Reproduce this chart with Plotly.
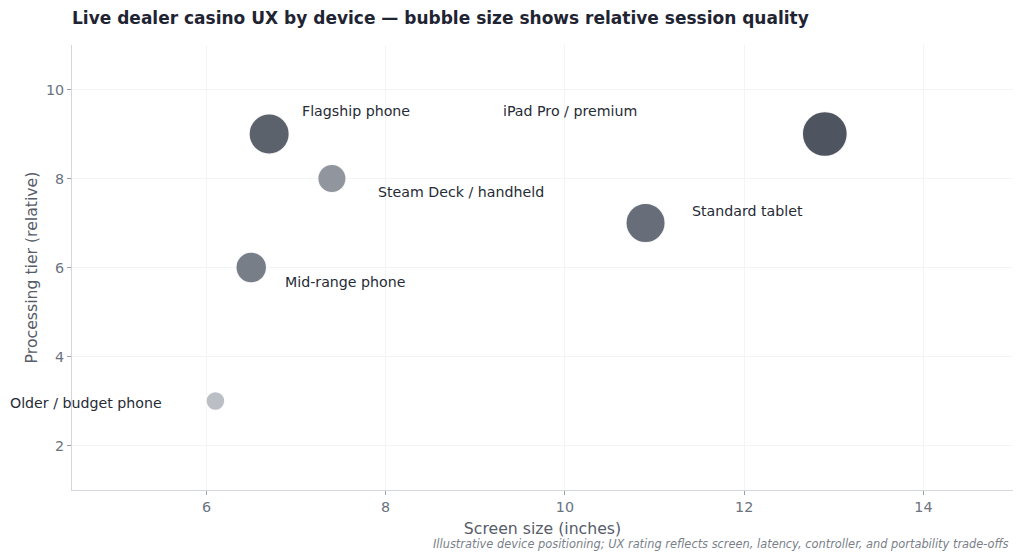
import plotly.graph_objects as go

# device positioning data
devices = ["Flagship phone", "Mid-range phone", "Older / budget phone",
           "Standard tablet", "iPad Pro / premium", "Steam Deck / handheld"]
screen_size = [6.7, 6.5, 6.1, 10.9, 12.9, 7.4]
processing_tier = [9, 6, 3, 7, 9, 8]
session_quality = [8.5, 6.5, 4.0, 8.3, 9.5, 6.0]

# label offsets in pixels (xshift, yshift, anchor)
label_pos = {
    "Flagship phone": (31, 23, "left"),
    "Mid-range phone": (32, -14, "left"),
    "Older / budget phone": (-51, -2, "right"),
    "Standard tablet": (44, 12, "left"),
    "iPad Pro / premium": (-186, 23, "right"),
    "Steam Deck / handheld": (44, -13, "left"),
}

FONT = "DejaVu Sans"
grays = [[0.0, "#b8bcc4"], [0.36, "#8e939c"], [0.45, "#737a84"],
         [0.78, "#646b76"], [0.82, "#555c67"], [1.0, "#4a505b"]]

fig = go.Figure()
fig.add_trace(go.Scatter(
    x=screen_size, y=processing_tier, mode="markers",
    text=devices, hoverinfo="text",
    marker=dict(size=session_quality, sizemode="diameter", sizeref=1 / 4.75,
                color=session_quality, colorscale=grays, cmin=4, cmax=9.5,
                showscale=False, opacity=0.97,
                line=dict(color="rgba(255,255,255,0.9)", width=1.5)),
    showlegend=False,
))

for name, x, y in zip(devices, screen_size, processing_tier):
    dx, dy, anchor = label_pos[name]
    fig.add_annotation(x=x, y=y, text=name, showarrow=False,
                       xanchor=anchor, yanchor="middle", xshift=dx, yshift=dy,
                       font=dict(family=FONT, size=14.2, color="#262b36"))

fig.add_annotation(
    text="Illustrative device positioning; UX rating reflects screen, latency, controller, and portability trade-offs",
    xref="paper", yref="paper", x=1, y=0, xanchor="right", yanchor="top",
    xshift=-2, yshift=-45, showarrow=False,
    font=dict(family=FONT, size=11.4, color="#7a7f8a", style="italic"))

axis_style = dict(showgrid=True, gridcolor="#f3f4f6", gridwidth=1,
                  showline=True, linecolor="#d3d6dc", linewidth=1,
                  ticks="outside", ticklen=4, tickcolor="#9a9fa8",
                  tickfont=dict(family=FONT, size=14.3, color="#6b7280"),
                  zeroline=False)

fig.update_xaxes(range=[4.5, 15], dtick=2, tick0=0,
                 title=dict(text="Screen size (inches)", standoff=8,
                            font=dict(family=FONT, size=15.7, color="#565c69")),
                 **axis_style)
fig.update_yaxes(range=[1, 11], dtick=2, tick0=0,
                 title=dict(text="Processing tier (relative)", standoff=4,
                            font=dict(family=FONT, size=15.7, color="#565c69")),
                 **axis_style)

# the page body adds an 8px offset, so the figure is drawn 16px smaller
fig.update_layout(
    width=1016, height=551,
    margin=dict(l=64, r=11, t=37, b=69),
    paper_bgcolor="white", plot_bgcolor="white",
    title=dict(text="<b>Live dealer casino UX by device — bubble size shows relative session quality</b>",
               x=64 / 1016, xref="container", xanchor="left",
               y=1 - 10 / 551, yref="container", yanchor="middle",
               font=dict(family=FONT, size=17, color="#1f2433")),
)

fig.write_html("out.html")
